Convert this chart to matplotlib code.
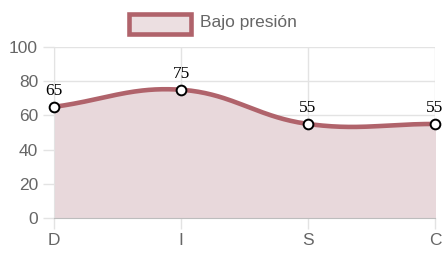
import numpy as np
import matplotlib.pyplot as plt
from matplotlib.patches import Rectangle

# chart data
categories = ["D", "I", "S", "C"]
values = [65, 75, 55, 55]
series_name = "Bajo presión"

line_color = "#b0636b"
fill_color = "#e8d8db"
grid_color = "#e3e3e3"
text_gray = "#666666"

W, H = 445, 261
fig = plt.figure(figsize=(W / 100, H / 100), dpi=100)
ax = fig.add_axes([54 / W, 1 - 218 / H, (435 - 54) / W, (218 - 47) / H])
ax.set_xlim(0, len(categories) - 1)
ax.set_ylim(0, 100)

xs = np.arange(len(categories))
ys = np.array(values, dtype=float)

# chart.js style spline (tension 0.4) computed in pixel space
fig.canvas.draw()
pts = ax.transData.transform(np.column_stack([xs, ys]))
t = 0.4
ctrl = []
for i in range(len(pts)):
    prev = pts[i - 1] if i > 0 else pts[i]
    cur = pts[i]
    nxt = pts[i + 1] if i < len(pts) - 1 else pts[i]
    d01 = np.hypot(*(cur - prev))
    d12 = np.hypot(*(nxt - cur))
    tot = d01 + d12
    s01 = d01 / tot if tot else 0
    s12 = d12 / tot if tot else 0
    cp_prev = cur - t * s01 * (nxt - prev)
    cp_next = cur + t * s12 * (nxt - prev)
    ctrl.append((cp_prev, cp_next))

curve = []
u = np.linspace(0, 1, 60)[:, None]
for i in range(len(pts) - 1):
    p0 = pts[i]
    p1 = ctrl[i][1]
    p2 = ctrl[i + 1][0]
    p3 = pts[i + 1]
    seg = (1 - u) ** 3 * p0 + 3 * (1 - u) ** 2 * u * p1 + 3 * (1 - u) * u ** 2 * p2 + u ** 3 * p3
    curve.append(seg)
curve = np.vstack(curve)
curve = ax.transData.inverted().transform(curve)

ax.fill_between(curve[:, 0], curve[:, 1], 0, color=fill_color, zorder=1)
ax.plot(curve[:, 0], curve[:, 1], color=line_color, lw=3.3, zorder=3, solid_capstyle="round")
ax.plot(xs, ys, "o", ms=7, mfc="white", mec="black", mew=1.4, zorder=4, clip_on=False)

for x, y in zip(xs, ys):
    ax.annotate(str(int(y)), (x, y), xytext=(0, 5.5), textcoords="offset points",
                ha="center", va="bottom", fontsize=12.5, family="Liberation Serif", color="black")

# grid and ticks
ax.set_yticks(range(0, 101, 20))
ax.set_xticks(xs)
ax.set_xticklabels(categories)
ax.grid(True, color=grid_color, lw=1, zorder=0)
ax.set_axisbelow(True)
for s in ["top", "right"]:
    ax.spines[s].set_visible(False)
ax.spines["left"].set_color(grid_color)
ax.spines["bottom"].set_color("#bdbdbd")
ax.tick_params(axis="both", colors=grid_color, labelcolor=text_gray, labelsize=12.5, length=8, width=1)
ax.tick_params(axis="x", pad=3)
for lab in ax.get_xticklabels() + ax.get_yticklabels():
    lab.set_family("Liberation Sans")

# legend drawn like chart.js
fig.patches.append(Rectangle((129 / W, 1 - 34 / H), 62 / W, 20 / H, transform=fig.transFigure,
                             facecolor="#ecdfe1", edgecolor=line_color, lw=3.3, figure=fig))
fig.text(200 / W, 1 - 23 / H, series_name, fontsize=12.5, color=text_gray,
         family="Liberation Sans", va="center", ha="left")

fig.savefig("out.png", dpi=100)
